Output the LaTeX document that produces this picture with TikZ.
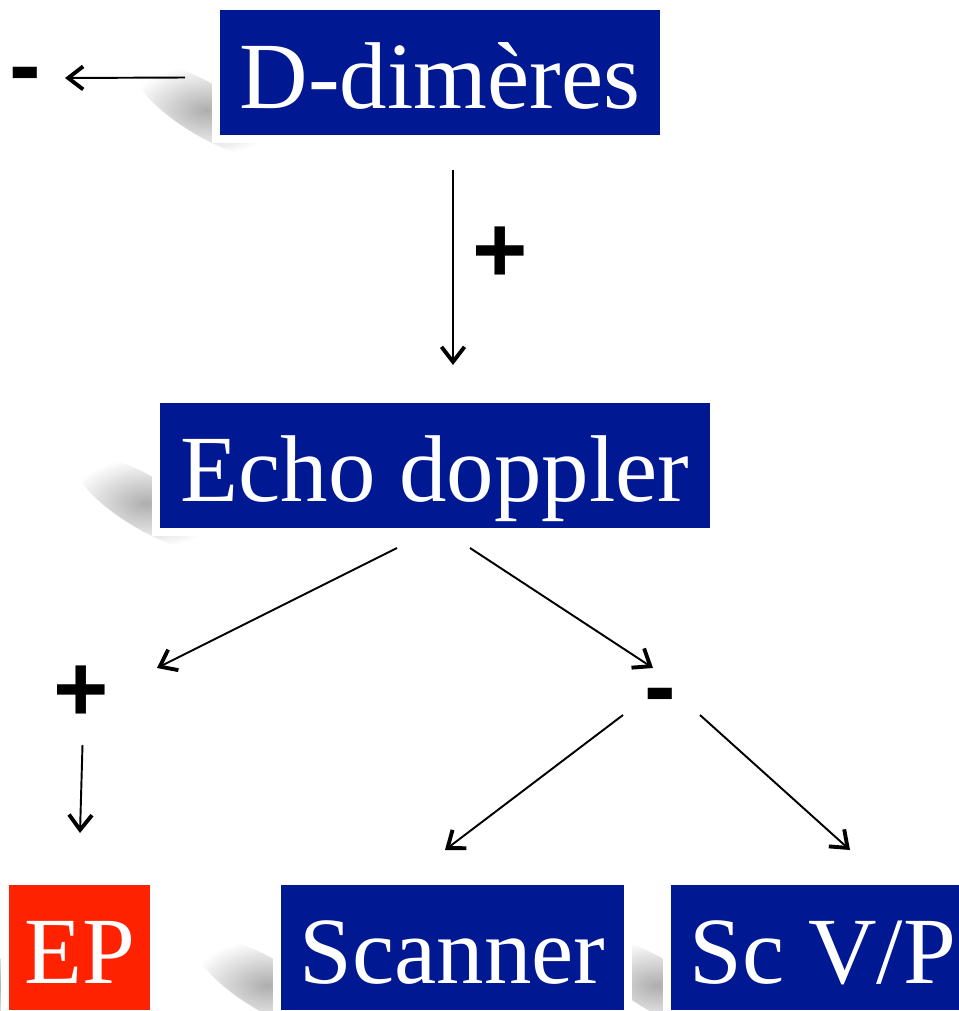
\documentclass[tikz,border=0pt]{standalone}
\usepackage{fontspec}
\setmainfont{Liberation Serif}
\setsansfont{Liberation Sans}
\usetikzlibrary{arrows.meta,calc,backgrounds}
\definecolor{boxblue}{RGB}{0,24,145}
\definecolor{boxred}{RGB}{255,34,0}

\begin{document}
\begin{tikzpicture}[x=0.02cm,y=-0.02cm,
  >={Straight Barb[length=0.3cm,width=0.46cm,line width=2.2pt]},
  box/.style={fill=boxblue,draw=white,line width=0.16cm,text=white,
    font=\fontsize{54}{60}\selectfont,inner sep=0pt,
    text height=1.44cm,text depth=0pt,minimum height=2.66cm},
  sign/.style={font=\sffamily\bfseries\fontsize{54}{60}\selectfont,inner sep=0pt},
  link/.style={->,line width=1.1pt}]
  \useasboundingbox (0,0) rectangle (959,1011);

  \node[box,minimum width=8.96cm] (dimer) at (440,72.5) {D-dimères};
  \node[box,minimum width=11.16cm] (echo) at (435,465.5) {Echo doppler};
  \node[box,fill=boxred,minimum width=2.98cm] (ep) at (79.5,947.5) {EP};
  \node[box,minimum width=7.02cm] (scanner) at (452.5,947.5) {Scanner};
  \node[box,minimum width=6.24cm] (scvp) at (823,947.5) {Sc V/P};

  \node[sign] (negA) at (25,82.5) {-};
  \node[sign] (posA) at (500,255) {+};
  \node[sign] (posB) at (81.5,694) {+};
  \node[sign] (negB) at (660,703) {-};

  \begin{scope}[on background layer]
    \foreach \n in {dimer,echo,ep,scanner,scvp}
      \shade[inner color=black!32,outer color=white,rotate=-31]
        ($(\n.south west)+(-22,-25)$) ellipse [x radius=82,y radius=26];
  \end{scope}

  \draw[link] ($(dimer.west)+(-27,5)$) -- ($(negA.center)+(40,-4.5)$);
  \draw[link] ($(dimer.south)+(13,27)$) -- ($(echo.north)+(18,-30)$);
  \draw[link] ($(echo.south)+(-38,12)$) -- ($(posB.center)+(75.5,-26)$);
  \draw[link] ($(echo.south)+(35,12)$) -- ($(negB.center)+(-7,-35)$);
  \draw[link] ($(posB.center)+(1,51)$) -- ($(ep.north)+(0.5,-44)$);
  \draw[link] ($(negB.center)+(-37,12)$) -- ($(scanner.north)+(-7.5,-27)$);
  \draw[link] ($(negB.center)+(40,12)$) -- ($(scvp.north)+(27,-27)$);
\end{tikzpicture}
\end{document}
